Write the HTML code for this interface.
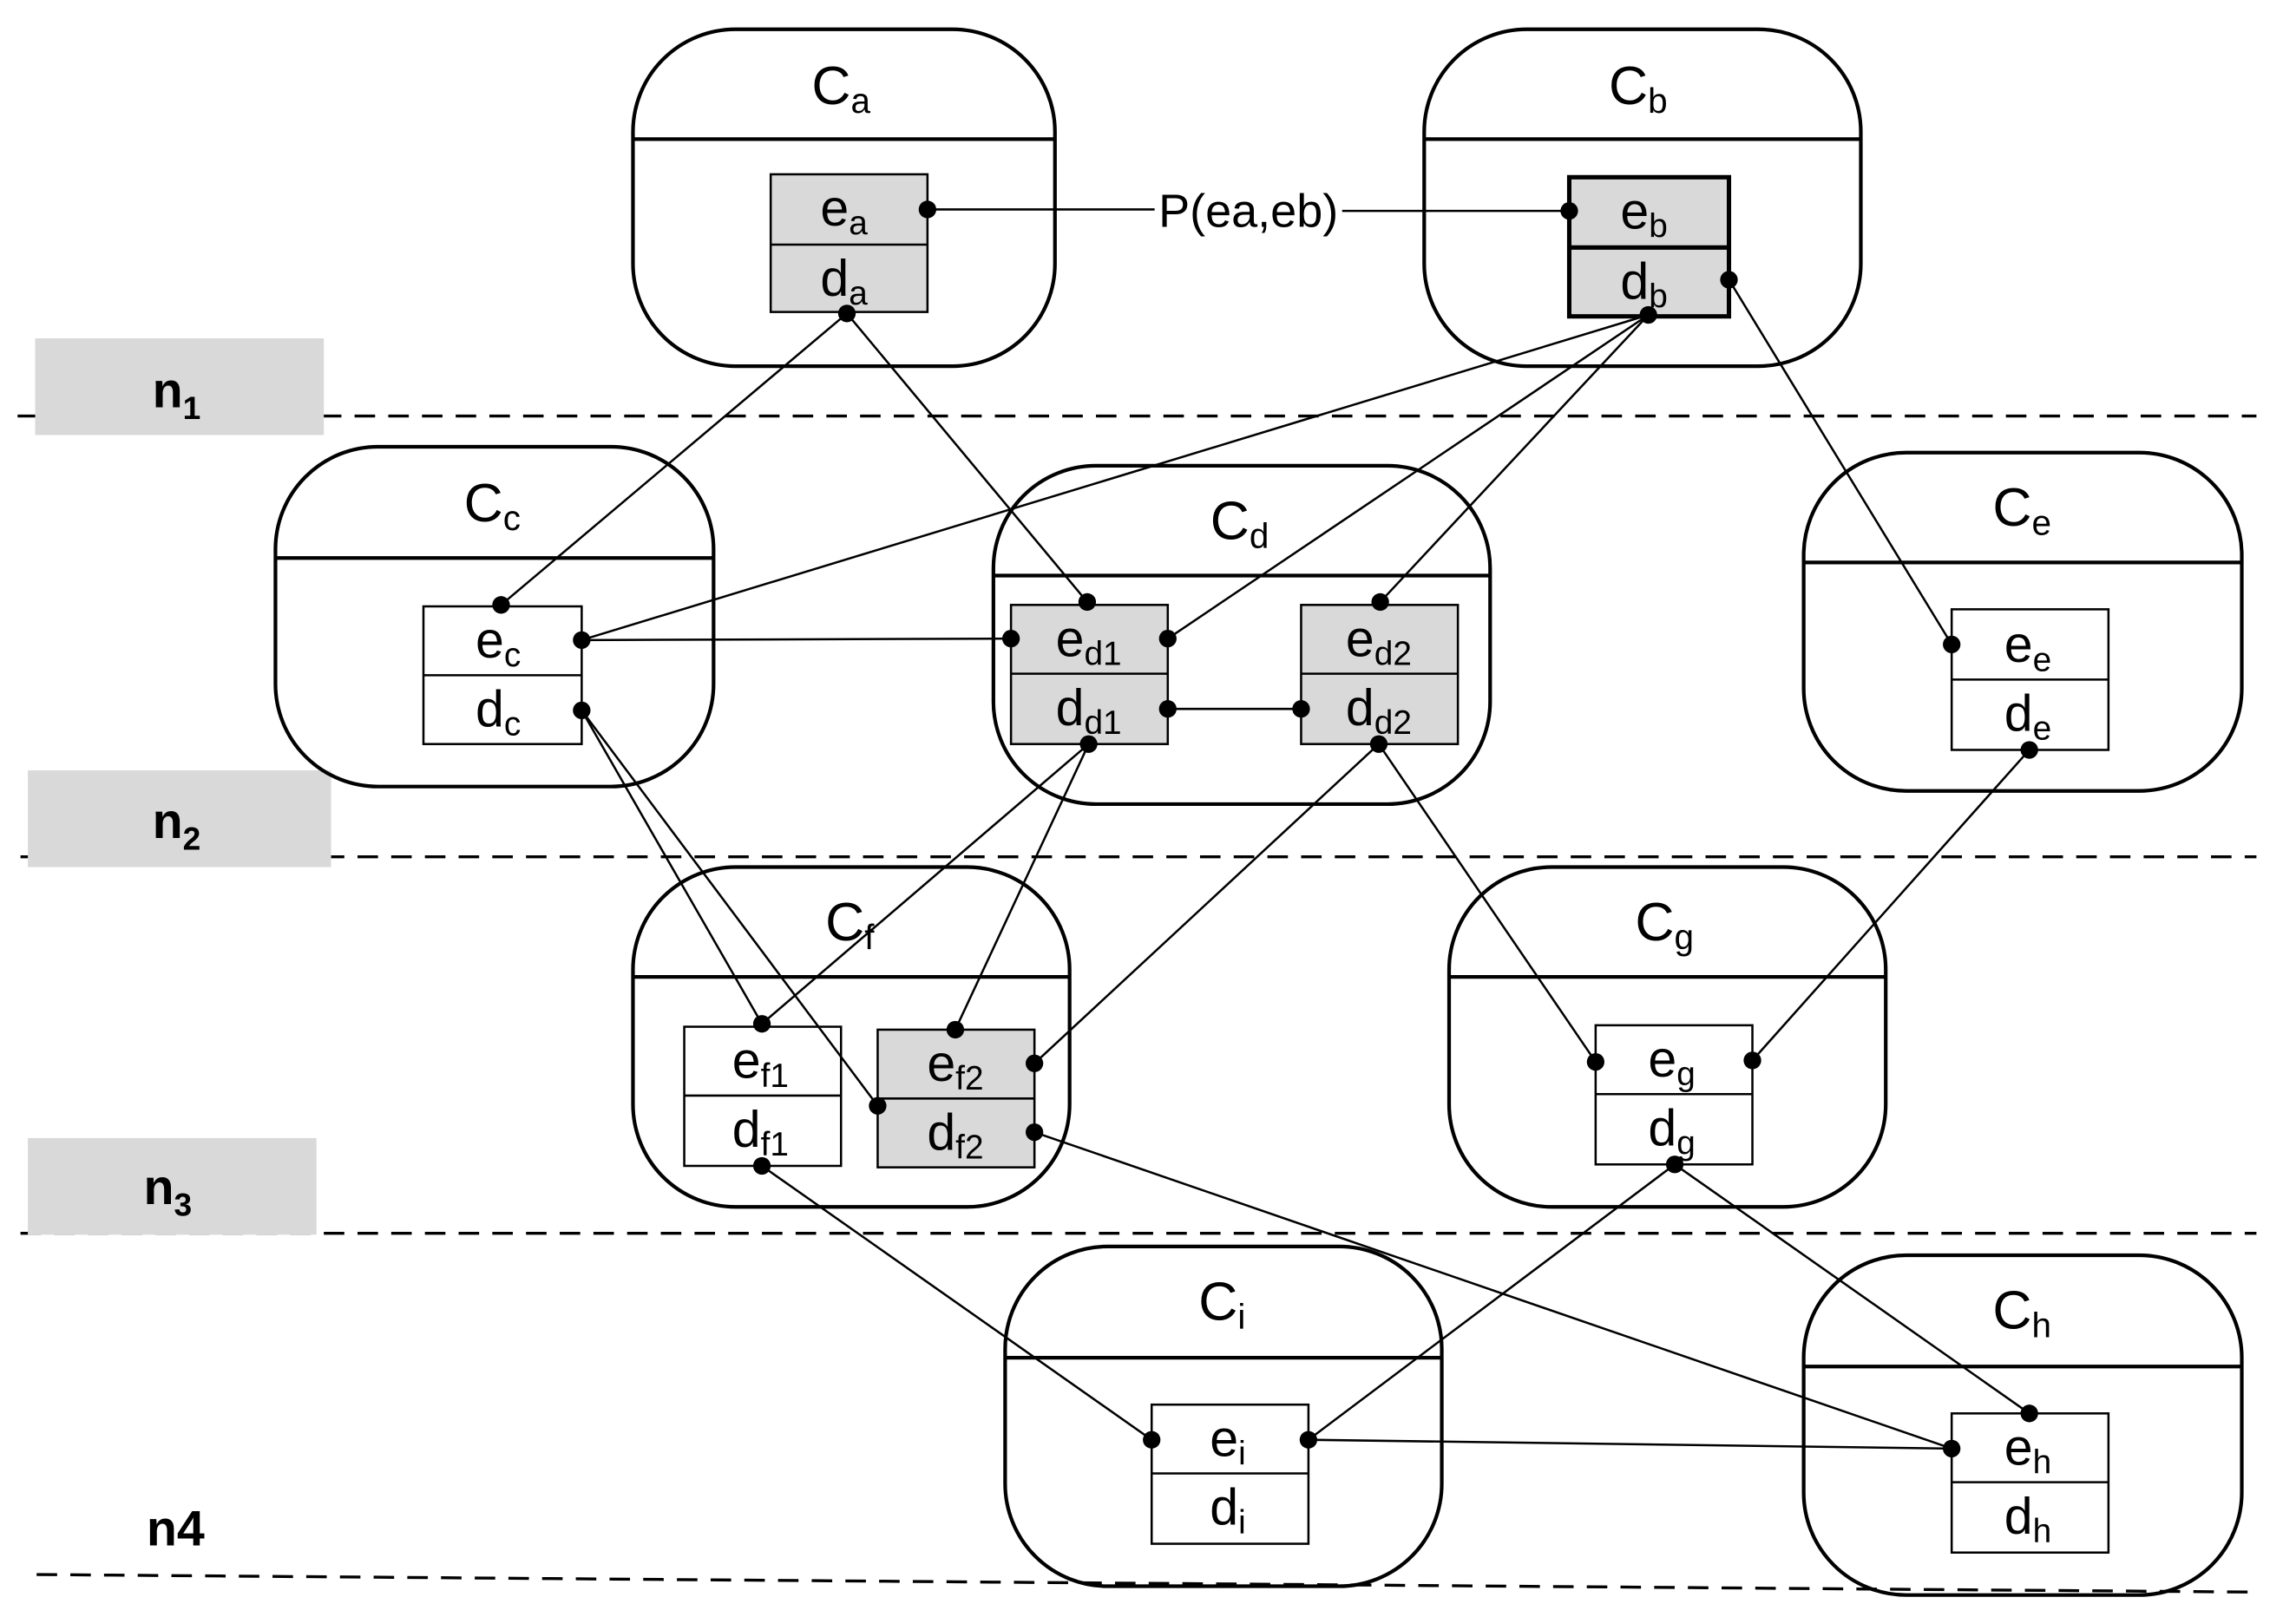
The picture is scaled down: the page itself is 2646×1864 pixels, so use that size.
<!DOCTYPE html>
<html><head><meta charset="utf-8"><style>
html,body{margin:0;padding:0;background:#fff;}
svg{display:block;}
text{font-family:"Liberation Sans",sans-serif;fill:#000;}
</style></head><body>
<svg width="2646" height="1864" viewBox="0 0 1567 1104" preserveAspectRatio="none" xmlns="http://www.w3.org/2000/svg">
<g stroke="#000" stroke-width="2.5" fill="none">
<g stroke-dasharray="14,9" stroke-width="2">
<line x1="12" y1="284" x2="1540" y2="284"/>
<line x1="14" y1="585" x2="1540" y2="585"/>
<line x1="14" y1="842" x2="1540" y2="842"/>
<line x1="25" y1="1075" x2="1540" y2="1087"/>
</g>
</g>
<rect x="24" y="231" width="197" height="66" fill="#d9d9d9"/>
<rect x="19" y="526" width="207" height="66" fill="#d9d9d9"/>
<rect x="19" y="777" width="197" height="66" fill="#d9d9d9"/>
<g font-weight="bold" font-size="34">
<text x="104" y="278">n<tspan font-size="22" dy="8">1</tspan></text>
<text x="104" y="572">n<tspan font-size="22" dy="8">2</tspan></text>
<text x="98" y="822">n<tspan font-size="22" dy="8">3</tspan></text>
<text x="100" y="1055">n4</text>
</g>
<g stroke="#000" stroke-width="2.5" fill="none">
<rect x="432" y="20" width="288" height="230" rx="70"/><line x1="432" y1="95" x2="720" y2="95"/>
<rect x="972" y="20" width="298" height="230" rx="70"/><line x1="972" y1="95" x2="1270" y2="95"/>
<rect x="188" y="305" width="299" height="232" rx="70"/><line x1="188" y1="381" x2="487" y2="381"/>
<rect x="678" y="318" width="339" height="231" rx="70"/><line x1="678" y1="393" x2="1017" y2="393"/>
<rect x="1231" y="309" width="299" height="231" rx="70"/><line x1="1231" y1="384" x2="1530" y2="384"/>
<rect x="432" y="592" width="298" height="232" rx="70"/><line x1="432" y1="667" x2="730" y2="667"/>
<rect x="989" y="592" width="298" height="232" rx="70"/><line x1="989" y1="667" x2="1287" y2="667"/>
<rect x="686" y="851" width="298" height="232" rx="70"/><line x1="686" y1="927" x2="984" y2="927"/>
<rect x="1231" y="857" width="299" height="232" rx="70"/><line x1="1231" y1="933" x2="1530" y2="933"/>
</g>
<g font-size="37" text-anchor="middle">
<text x="574" y="71">C<tspan font-size="24" dy="6">a</tspan></text>
<text x="1118" y="71">C<tspan font-size="24" dy="6">b</tspan></text>
<text x="336" y="356">C<tspan font-size="24" dy="6">c</tspan></text>
<text x="846" y="368">C<tspan font-size="24" dy="6">d</tspan></text>
<text x="1380" y="359">C<tspan font-size="24" dy="6">e</tspan></text>
<text x="580" y="642">C<tspan font-size="24" dy="6">f</tspan></text>
<text x="1136" y="642">C<tspan font-size="24" dy="6">g</tspan></text>
<text x="834" y="901">C<tspan font-size="24" dy="6">i</tspan></text>
<text x="1380" y="907">C<tspan font-size="24" dy="6">h</tspan></text>
</g>
<g stroke="#000" stroke-width="1.5">
<rect x="526" y="119" width="107" height="94" fill="#d9d9d9"/><line x1="526" y1="167" x2="633" y2="167"/>
<rect x="1071" y="121" width="109" height="95" fill="#d9d9d9" stroke-width="3"/><line x1="1071" y1="169" x2="1180" y2="169" stroke-width="3"/>
<rect x="289" y="414" width="108" height="94" fill="#fff"/><line x1="289" y1="461" x2="397" y2="461"/>
<rect x="690" y="413" width="107" height="95" fill="#d9d9d9"/><line x1="690" y1="460" x2="797" y2="460"/>
<rect x="888" y="413" width="107" height="95" fill="#d9d9d9"/><line x1="888" y1="460" x2="995" y2="460"/>
<rect x="1332" y="416" width="107" height="96" fill="#fff"/><line x1="1332" y1="464" x2="1439" y2="464"/>
<rect x="467" y="701" width="107" height="95" fill="#fff"/><line x1="467" y1="748" x2="574" y2="748"/>
<rect x="599" y="703" width="107" height="94" fill="#d9d9d9"/><line x1="599" y1="750" x2="706" y2="750"/>
<rect x="1089" y="700" width="107" height="95" fill="#fff"/><line x1="1089" y1="747" x2="1196" y2="747"/>
<rect x="786" y="959" width="107" height="95" fill="#fff"/><line x1="786" y1="1006" x2="893" y2="1006"/>
<rect x="1332" y="965" width="107" height="95" fill="#fff"/><line x1="1332" y1="1012" x2="1439" y2="1012"/>
</g>
<g font-size="35" text-anchor="middle">
<text x="576" y="154">e<tspan font-size="23" dy="6">a</tspan></text>
<text x="576" y="202">d<tspan font-size="23" dy="6">a</tspan></text>
<text x="1122" y="156">e<tspan font-size="23" dy="6">b</tspan></text>
<text x="1122" y="204">d<tspan font-size="23" dy="6">b</tspan></text>
<text x="340" y="449">e<tspan font-size="23" dy="6">c</tspan></text>
<text x="340" y="496">d<tspan font-size="23" dy="6">c</tspan></text>
<text x="743" y="448">e<tspan font-size="23" dy="6">d1</tspan></text>
<text x="743" y="495">d<tspan font-size="23" dy="6">d1</tspan></text>
<text x="941" y="448">e<tspan font-size="23" dy="6">d2</tspan></text>
<text x="941" y="495">d<tspan font-size="23" dy="6">d2</tspan></text>
<text x="1384" y="452">e<tspan font-size="23" dy="6">e</tspan></text>
<text x="1384" y="499">d<tspan font-size="23" dy="6">e</tspan></text>
<text x="519" y="736">e<tspan font-size="23" dy="6">f1</tspan></text>
<text x="519" y="783">d<tspan font-size="23" dy="6">f1</tspan></text>
<text x="652" y="738">e<tspan font-size="23" dy="6">f2</tspan></text>
<text x="652" y="785">d<tspan font-size="23" dy="6">f2</tspan></text>
<text x="1141" y="735">e<tspan font-size="23" dy="6">g</tspan></text>
<text x="1141" y="782">d<tspan font-size="23" dy="6">g</tspan></text>
<text x="838" y="994">e<tspan font-size="23" dy="6">i</tspan></text>
<text x="838" y="1041">d<tspan font-size="23" dy="6">i</tspan></text>
<text x="1384" y="1000">e<tspan font-size="23" dy="6">h</tspan></text>
<text x="1384" y="1047">d<tspan font-size="23" dy="6">h</tspan></text>
</g>
<g stroke="#000" stroke-width="1.5" fill="none">
<line x1="633" y1="143" x2="788" y2="143"/>
<line x1="916" y1="144" x2="1071" y2="144"/>
<line x1="578" y1="214" x2="342" y2="413"/>
<line x1="578" y1="214" x2="742" y2="411"/>
<line x1="1125" y1="215" x2="397" y2="437"/>
<line x1="1125" y1="215" x2="797" y2="436"/>
<line x1="1125" y1="215" x2="942" y2="411"/>
<line x1="1180" y1="191" x2="1332" y2="440"/>
<line x1="397" y1="437" x2="690" y2="436"/>
<line x1="397" y1="485" x2="520" y2="699"/>
<line x1="397" y1="485" x2="599" y2="755"/>
<line x1="797" y1="484" x2="888" y2="484"/>
<line x1="743" y1="508" x2="520" y2="699"/>
<line x1="743" y1="508" x2="652" y2="703"/>
<line x1="941" y1="508" x2="706" y2="726"/>
<line x1="941" y1="508" x2="1089" y2="725"/>
<line x1="1385" y1="512" x2="1196" y2="724"/>
<line x1="520" y1="796" x2="786" y2="983"/>
<line x1="706" y1="773" x2="1332" y2="989"/>
<line x1="1143" y1="795" x2="893" y2="983"/>
<line x1="1143" y1="795" x2="1385" y2="965"/>
<line x1="893" y1="983" x2="1332" y2="989"/>
</g>
<text x="852" y="155" font-size="32" text-anchor="middle">P(ea,eb)</text>
<g fill="#000">
<circle cx="633" cy="143" r="6"/><circle cx="1071" cy="144" r="6"/>
<circle cx="578" cy="214" r="6"/><circle cx="1125" cy="215" r="6"/><circle cx="1180" cy="191" r="6"/>
<circle cx="342" cy="413" r="6"/><circle cx="397" cy="437" r="6"/><circle cx="397" cy="485" r="6"/>
<circle cx="742" cy="411" r="6"/><circle cx="797" cy="436" r="6"/><circle cx="690" cy="436" r="6"/>
<circle cx="797" cy="484" r="6"/><circle cx="888" cy="484" r="6"/><circle cx="743" cy="508" r="6"/>
<circle cx="942" cy="411" r="6"/><circle cx="941" cy="508" r="6"/>
<circle cx="1332" cy="440" r="6"/><circle cx="1385" cy="512" r="6"/>
<circle cx="520" cy="699" r="6"/><circle cx="599" cy="755" r="6"/><circle cx="652" cy="703" r="6"/>
<circle cx="706" cy="726" r="6"/><circle cx="706" cy="773" r="6"/><circle cx="520" cy="796" r="6"/>
<circle cx="1089" cy="725" r="6"/><circle cx="1196" cy="724" r="6"/><circle cx="1143" cy="795" r="6"/>
<circle cx="786" cy="983" r="6"/><circle cx="893" cy="983" r="6"/>
<circle cx="1332" cy="989" r="6"/><circle cx="1385" cy="965" r="6"/>
</g>
</svg>
</body></html>
